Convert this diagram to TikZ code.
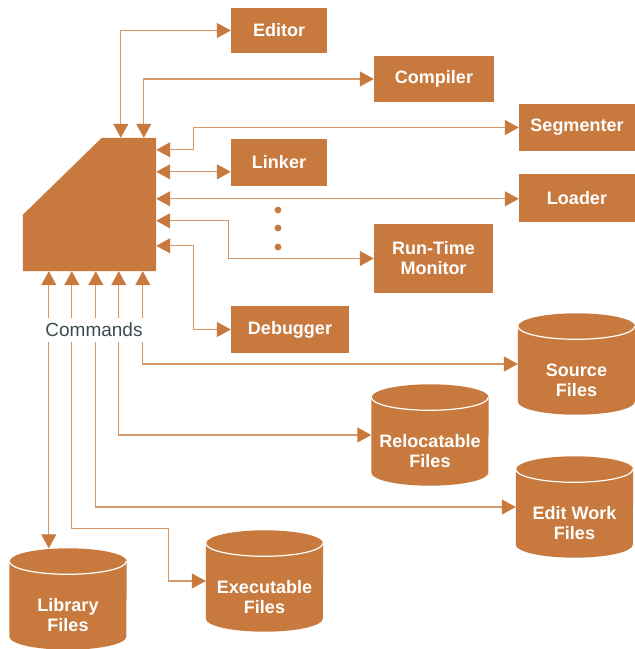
\documentclass[tikz,border=0pt]{standalone}
\usepackage{fontspec}
\setmainfont{Liberation Sans}
\usetikzlibrary{arrows.meta,backgrounds}
\definecolor{rust}{RGB}{200,122,62}
\definecolor{rustline}{RGB}{214,152,104}
\definecolor{cmdgray}{RGB}{60,76,78}

\begin{document}
\begin{tikzpicture}[x=1pt,y=1pt]
  \tikzstyle{tool}=[rectangle,fill=rust,text=white,font=\bfseries\fontsize{18}{20}\selectfont,align=center,inner sep=0pt]
  \tikzstyle{files}=[rectangle,inner sep=0pt,minimum width=117pt,minimum height=101pt]
  \tikzstyle{ftext}=[text=white,font=\bfseries\fontsize{18}{20}\selectfont,align=center,yshift=-16pt]
  \tikzstyle{link}=[draw=rustline,line width=1.2pt,{Triangle[length=14pt,width=15pt,color=rust]}-{Triangle[length=14pt,width=15pt,color=rust]}]
  \useasboundingbox (0,0) rectangle (635,649);

  % control block and tools
  \node[rectangle,minimum width=133pt,minimum height=133pt,inner sep=0pt] (ctrl) at (89.5,444.5) {};
  \node[tool,minimum width=96pt,minimum height=45pt] (editor) at (279,618.5) {Editor};
  \node[tool,minimum width=120pt,minimum height=46pt] (compiler) at (434,570) {Compiler};
  \node[tool,minimum width=116pt,minimum height=47pt] (segmenter) at (577,521.5) {Segmenter};
  \node[tool,minimum width=96pt,minimum height=47pt] (linker) at (279,486.5) {Linker};
  \node[tool,minimum width=116pt,minimum height=48pt] (loader) at (577,451) {Loader};
  \node[tool,minimum width=119pt,minimum height=69pt] (monitor) at (433.5,390.5) {Run-Time\\Monitor};
  \node[tool,minimum width=118pt,minimum height=47pt] (debugger) at (290,319.5) {Debugger};

  % files
  \node[files,label={[ftext]center:Source\\Files}] (source) at (576.5,285) {};
  \node[files,label={[ftext]center:Relocatable\\Files}] (reloc) at (430,214) {};
  \node[files,label={[ftext]center:Edit Work\\Files}] (edit) at (574.5,142) {};
  \node[files,label={[ftext]center:Library\\Files}] (lib) at (68,50) {};
  \node[files,label={[ftext]center:Executable\\Files}] (exe) at (264.5,68) {};

  \begin{scope}[on background layer]
    \fill[rust] (ctrl.north east) -- (ctrl.south east) -- (ctrl.south west)
      -- ([yshift=-77pt]ctrl.north west) -- ([xshift=79pt]ctrl.north west) -- cycle;
    \foreach \f in {source,reloc,edit,lib,exe}{
      \fill[rust] ([yshift=-13pt]\f.north west) -- ([yshift=13pt]\f.south west)
        arc[start angle=180,end angle=360,x radius=58.5pt,y radius=13pt]
        -- ([yshift=-13pt]\f.north east)
        arc[start angle=0,end angle=180,x radius=58.5pt,y radius=13pt] -- cycle;
      \draw[white,line width=1.2pt] ([yshift=-13pt]\f.north west)
        arc[start angle=180,end angle=360,x radius=58.5pt,y radius=13pt];
    }
  \end{scope}

  % ports of the control block
  \coordinate (t1) at ([xshift=98pt]ctrl.north west);
  \coordinate (t2) at ([xshift=121pt]ctrl.north west);
  \coordinate (r1) at ([yshift=-12pt]ctrl.north east);
  \coordinate (r2) at ([yshift=-34pt]ctrl.north east);
  \coordinate (r3) at ([yshift=-61pt]ctrl.north east);
  \coordinate (r4) at ([yshift=-83pt]ctrl.north east);
  \coordinate (r5) at ([yshift=-108pt]ctrl.north east);
  \coordinate (b1) at ([xshift=26pt]ctrl.south west);
  \coordinate (b2) at ([xshift=49pt]ctrl.south west);
  \coordinate (b3) at ([xshift=73pt]ctrl.south west);
  \coordinate (b4) at ([xshift=96pt]ctrl.south west);
  \coordinate (b5) at ([xshift=120pt]ctrl.south west);

  \draw[link] (t1) |- (editor);
  \draw[link] (t2) |- (compiler);
  \draw[link] (r1) -- ++(37pt,0) |- (segmenter);
  \draw[link] (r2) -- (r2 -| linker.west);
  \draw[link] (r3) -- (r3 -| loader.west);
  \draw[link] (r4) -- ++(72pt,0) |- (monitor);
  \draw[link] (r5) -- ++(37pt,0) |- (debugger);
  \draw[link] (b5) |- (source);
  \draw[link] (b4) |- (reloc);
  \draw[link] (b3) |- (edit);
  \draw[link] (b2) -- ++(0,-257pt) -- ++(97pt,0) |- (exe);
  \draw[link] (b1) -- (b1 |- lib.north);

  \foreach \y in {439,421,402} \fill[rust] (278,\y) circle (3.4pt);

  \node[text=cmdgray,fill=white,font=\fontsize{19}{20}\selectfont,inner sep=5pt] (cmd) at (94,319) {Commands};
\end{tikzpicture}
\end{document}
